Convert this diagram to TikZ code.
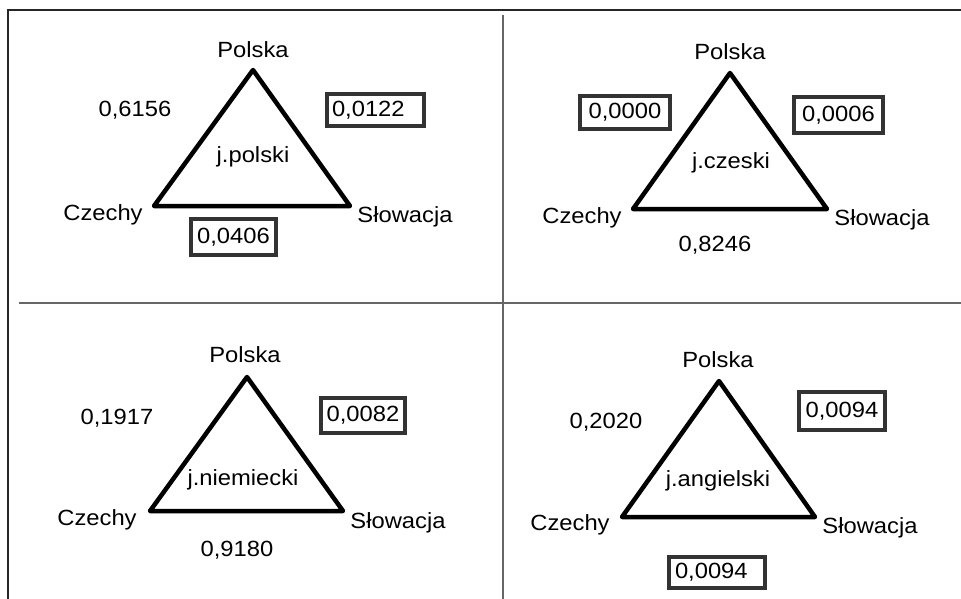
\documentclass[tikz,border=0pt]{standalone}
\usepackage{fontspec}
\setmainfont{Liberation Sans}[FakeStretch=1.08]
\begin{document}
\begin{tikzpicture}[x=1pt,y=-1pt,
  lbl/.style={font=\fontsize{22}{25}\selectfont, inner sep=0pt},
  valbox/.style={lbl, draw=black!80, line width=4pt, align=center},
  tri/.style={line width=4.5pt, line join=round},
  frame/.style={line width=2pt, draw=black!85},
  divider/.style={line width=1.5pt, draw=black!60}]
\useasboundingbox (0,0) rectangle (961,599);
\fill[white] (0,0) rectangle (961,599);

% outer frame and quadrant dividers
\coordinate (ftr) at (961,10);
\coordinate (ftl) at (8,10);
\coordinate (fbl) at (8,599);
\draw[frame] (ftr) -- (ftl) -- (fbl);
\coordinate (vt) at (503,15);
\coordinate (vb) at (503,599);
\draw[divider] (vt) -- (vb);
\coordinate (hl) at (19,303);
\coordinate (hr) at (961,303);
\draw[divider] (hl) -- (hr);

% ---- j.polski
\coordinate (a1) at (253,70);
\coordinate (b1) at (154,206);
\coordinate (c1) at (350,206);
\draw[tri] (a1) -- (b1) -- (c1) -- cycle;
\node[lbl] (pl1) at (253,50) {Polska};
\node[lbl] (cz1) at (103,215) {Czechy};
\node[lbl] (sk1) at (405,217) {Słowacja};
\node[lbl] (in1) at (253,157) {j.polski};
\node[lbl] (v1a) at (135,110) {0,6156};
\node[valbox, minimum width=97pt, minimum height=32pt, text width=93pt, align=left] (v1b) at (375.5,110) {\hspace{3pt}0,0122};
\node[valbox, minimum width=85pt, minimum height=36pt] (v1c) at (233.5,237) {0,0406};

% ---- j.czeski
\coordinate (a2) at (730,73);
\coordinate (b2) at (633,209);
\coordinate (c2) at (827,209);
\draw[tri] (a2) -- (b2) -- (c2) -- cycle;
\node[lbl] (pl2) at (730,52) {Polska};
\node[lbl] (cz2) at (582,218) {Czechy};
\node[lbl] (sk2) at (882,220) {Słowacja};
\node[lbl] (in2) at (731,163) {j.czeski};
\node[valbox, minimum width=90pt, minimum height=33pt] (v2a) at (625,112.5) {0,0000};
\node[valbox, minimum width=89pt, minimum height=36pt] (v2b) at (838.5,115) {0,0006};
\node[lbl] (v2c) at (715,245) {0,8246};

% ---- j.niemiecki
\coordinate (a3) at (247,377);
\coordinate (b3) at (150,511);
\coordinate (c3) at (343,511);
\draw[tri] (a3) -- (b3) -- (c3) -- cycle;
\node[lbl] (pl3) at (245,355) {Polska};
\node[lbl] (cz3) at (97,520) {Czechy};
\node[lbl] (sk3) at (398,523) {Słowacja};
\node[lbl] (in3) at (243,480) {j.niemiecki};
\node[lbl] (v3a) at (117,418) {0,1917};
\node[valbox, minimum width=84pt, minimum height=35pt] (v3b) at (363,415.5) {0,0082};
\node[lbl] (v3c) at (237,550) {0,9180};

% ---- j.angielski
\coordinate (a4) at (719,381);
\coordinate (b4) at (622,517);
\coordinate (c4) at (815,517);
\draw[tri] (a4) -- (b4) -- (c4) -- cycle;
\node[lbl] (pl4) at (718,360) {Polska};
\node[lbl] (cz4) at (570,525) {Czechy};
\node[lbl] (sk4) at (870,528) {Słowacja};
\node[lbl] (in4) at (718,481) {j.angielski};
\node[lbl] (v4a) at (606,422) {0,2020};
\node[valbox, minimum width=86pt, minimum height=38pt] (v4b) at (842,411) {0,0094};
\node[valbox, minimum width=96pt, minimum height=31pt, text width=92pt, align=left] (v4c) at (717,572.5) {\hspace{4pt}0,0094};
\end{tikzpicture}
\end{document}
